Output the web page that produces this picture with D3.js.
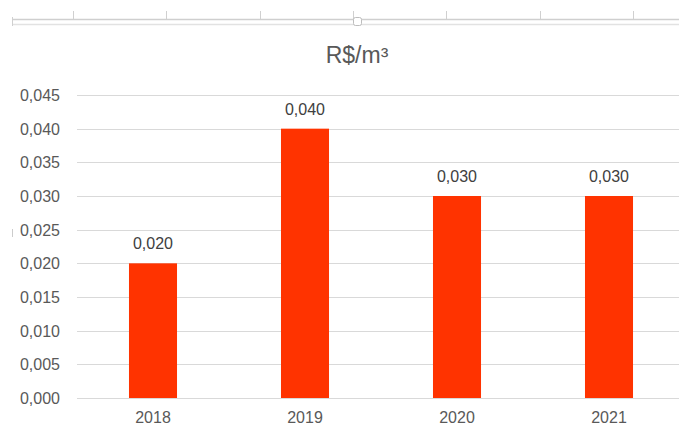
<!DOCTYPE html>
<html>
    <head>
        <meta charset="utf-8">
        <script type="text/javascript" src="https://d3js.org/d3.v7.min.js"></script>
        <style>
            html, body {
                margin: 0;
                padding: 0;
                background: #fff;
            }
            svg text {
                font-family: "Liberation Sans", Arial, sans-serif;
            }
            .title {
                font-size: 23px;
                fill: #595959;
            }
            .axis text {
                font-size: 16px;
                fill: #595959;
            }
            .label {
                font-size: 16px;
                fill: #404040;
            }
            .grid line {
                stroke: #d9d9d9;
                stroke-width: 1;
            }
        </style>
    </head>
    <body>
        <div id="chart"></div>

        <script>
            var years = ["2018", "2019", "2020", "2021"];
            var values = [0.020, 0.040, 0.030, 0.030];
            var yTicks = [0, 0.005, 0.010, 0.015, 0.020, 0.025, 0.030, 0.035, 0.040, 0.045];
            var title = "R$/m³";

            var width = 679, height = 426;
            var fmt = function(v) { return d3.format(".3f")(v).replace(".", ","); };

            var svg = d3.select("#chart")
                .append("svg")
                    .attr("width", width)
                    .attr("height", height);

            // ruler strip at the top (looks like the editor's ruler in the screenshot)
            var ruler = svg.append("g").attr("class", "ruler");
            ruler.append("line")
                .attr("x1", 12).attr("x2", width)
                .attr("y1", 19.5).attr("y2", 19.5)
                .attr("stroke", "#cfcfcf").attr("stroke-width", 1.5);
            ruler.append("line")
                .attr("x1", 12).attr("x2", width)
                .attr("y1", 24.5).attr("y2", 24.5)
                .attr("stroke", "#e2e2e2").attr("stroke-width", 1.5);
            ruler.append("line")
                .attr("x1", 12.5).attr("x2", 12.5)
                .attr("y1", 17).attr("y2", 26)
                .attr("stroke", "#d0d0d0");
            ruler.selectAll(".rtick")
                .data(d3.range(0, 7))
                .enter()
                .append("line")
                .attr("class", "rtick")
                .attr("x1", function(i) { return Math.round(73 + i * 93.33) + 0.5; })
                .attr("x2", function(i) { return Math.round(73 + i * 93.33) + 0.5; })
                .attr("y1", 11).attr("y2", 19)
                .attr("stroke", "#d0d0d0");
            ruler.append("rect")
                .attr("x", 353.5).attr("y", 17.5)
                .attr("width", 8).attr("height", 8)
                .attr("rx", 2)
                .attr("fill", "#fff")
                .attr("stroke", "#bdbdbd");

            // little handle mark on the left edge
            svg.append("line")
                .attr("x1", 12.5).attr("x2", 12.5)
                .attr("y1", 229).attr("y2", 237)
                .attr("stroke", "#cccccc");

            svg.append("text")
                .attr("class", "title")
                .attr("text-anchor", "middle")
                .attr("x", 357)
                .attr("y", 63)
                .text(title);

            var xScale = d3.scaleBand()
                .domain(years)
                .range([77, 685])
                .paddingInner(0.684)
                .paddingOuter(0.342);

            var yScale = d3.scaleLinear()
                .domain([0, 0.045])
                .range([398, 95]);

            // gridlines
            svg.append("g")
                .attr("class", "grid")
                .selectAll("line")
                .data(yTicks)
                .enter()
                .append("line")
                .attr("x1", 77)
                .attr("x2", width)
                .attr("y1", function(d) { return Math.round(yScale(d)) + 0.5; })
                .attr("y2", function(d) { return Math.round(yScale(d)) + 0.5; });

            var yAxis = svg.append("g")
                .attr("class", "y axis")
                .attr("transform", "translate(60,0)")
                .call(d3.axisLeft(yScale).tickValues(yTicks).tickSize(0).tickPadding(0).tickFormat(fmt));
            yAxis.select(".domain").remove();
            yAxis.selectAll("text").attr("dy", "0.35em");

            svg.selectAll(".bar")
                .data(values)
                .enter()
                .append("rect")
                .attr("class", "bar")
                .attr("x", function(d, i) { return xScale(years[i]); })
                .attr("width", xScale.bandwidth())
                .attr("y", function(d) { return yScale(d); })
                .attr("height", function(d) { return yScale(0) - yScale(d); })
                .attr("fill", "#ff3300");

            svg.selectAll(".label")
                .data(values)
                .enter()
                .append("text")
                .attr("class", "label")
                .attr("text-anchor", "middle")
                .attr("x", function(d, i) { return xScale(years[i]) + xScale.bandwidth() / 2; })
                .attr("y", function(d) { return yScale(d) - 14; })
                .text(fmt);

            var xAxis = svg.append("g")
                .attr("class", "x axis")
                .attr("transform", "translate(0,398)")
                .call(d3.axisBottom(xScale).tickSize(0).tickPadding(14));
            xAxis.select(".domain").remove();
        </script>
    </body>
</html>
